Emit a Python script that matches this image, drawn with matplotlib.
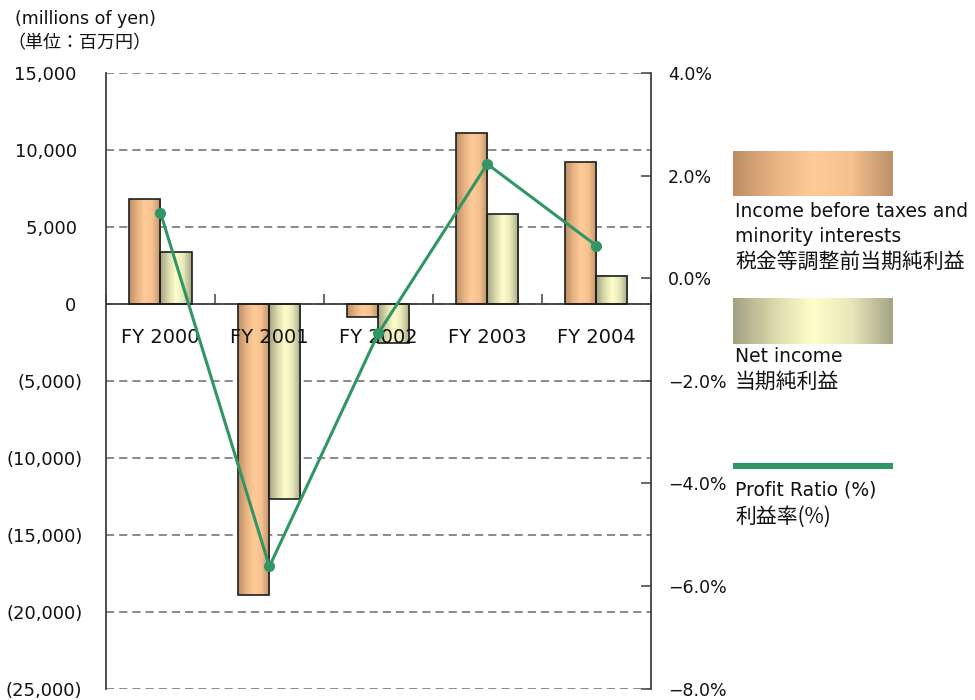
import numpy as np
import matplotlib
matplotlib.use('Agg')
import matplotlib.pyplot as plt
from matplotlib.colors import LinearSegmentedColormap
from matplotlib.ticker import FuncFormatter, FixedLocator

plt.rcParams['font.family'] = ['DejaVu Sans', 'Noto Sans CJK JP']
JP = ['Noto Sans CJK JP', 'DejaVu Sans']

# データ（百万円、%）
years = ['FY 2000', 'FY 2001', 'FY 2002', 'FY 2003', 'FY 2004']
income_before = [6800, -18900, -870, 11100, 9230]   # 税金等調整前当期純利益
net_income = [3350, -12650, -2530, 5850, 1840]       # 当期純利益
profit_ratio = [1.28, -5.62, -1.07, 2.23, 0.64]      # 利益率(%)
left_ticks = [15000, 10000, 5000, 0, -5000, -10000, -15000, -20000, -25000]
right_ticks = [4, 2, 0, -2, -4, -6, -8]

# グラデーション用カラーマップ
cmap_orange = LinearSegmentedColormap.from_list(
    'o', ['#bd8e66', '#e8b282', '#ffcc99', '#f4c08e', '#bc9168'])
cmap_olive = LinearSegmentedColormap.from_list(
    'g', ['#a3a384', '#d8d8aa', '#ffffcc', '#e6e6b8', '#a6a688'])
grad = np.linspace(0, 1, 64).reshape(1, -1)
green = '#2f9664'
dark = '#404040'
txt = '#111111'

fig = plt.figure(figsize=(9.75, 7.0), dpi=100)
ax = fig.add_axes([106 / 975, 1 - 688.5 / 700, (650.7 - 106) / 975, (688.5 - 73.3) / 700])

x = np.arange(len(years))
w = 0.285
b1 = ax.bar(x - w, income_before, w, align='edge', facecolor='none',
            edgecolor='#1e1e1e', linewidth=1.2, zorder=3)
b2 = ax.bar(x, net_income, w, align='edge', facecolor='none',
            edgecolor='#1e1e1e', linewidth=1.2, zorder=3)


# 棒の中にグラデーションを描く
def fill_gradient(bars, cmap):
    for p in bars:
        x0 = p.get_x()
        y0 = p.get_y()
        x1 = x0 + p.get_width()
        y1 = y0 + p.get_height()
        ax.imshow(grad, cmap=cmap, extent=[x0, x1, min(y0, y1), max(y0, y1)],
                  aspect='auto', zorder=2, interpolation='bicubic')


fill_gradient(b1, cmap_orange)
fill_gradient(b2, cmap_olive)

ax.set_xlim(-0.5, len(years) - 0.5)
ax.set_ylim(-25000, 15000)
ax.set_yticks(left_ticks)


def yen_fmt(v, pos):
    if v < 0:
        return '({:,.0f})'.format(-v)
    return '{:,.0f}\u2008'.format(v)


ax.yaxis.set_major_formatter(FuncFormatter(yen_fmt))
ax.tick_params(axis='y', length=0, pad=17, labelsize=13, labelcolor=txt)
ax.grid(axis='y', color='#808080', linestyle=(0, (4.5, 2.8)), linewidth=1.3)
ax.set_axisbelow(True)

ax.spines['top'].set_visible(False)
ax.spines['right'].set_visible(False)
ax.spines['bottom'].set_position(('data', 0))
ax.spines['bottom'].set_color(dark)
ax.spines['bottom'].set_linewidth(1.3)
ax.spines['left'].set_color(dark)
ax.spines['left'].set_linewidth(1.3)

ax.set_xticks(x)
ax.set_xticklabels([])
ax.xaxis.set_minor_locator(FixedLocator(np.arange(-0.5, len(years), 1.0)))
ax.tick_params(axis='x', which='major', length=0)
ax.tick_params(axis='x', which='minor', direction='in', length=7, color=dark, width=1.1)

# 年度ラベル（棒の上に表示）
for i, lab in enumerate(years):
    ax.annotate(lab, xy=(i, 0), xytext=(0, -24), textcoords='offset points',
                ha='center', va='center', fontsize=14, color=txt, zorder=10)

# 利益率（右軸）
ax2 = ax.twinx()
ax2.plot(x, profit_ratio, color=green, linewidth=2.2, marker='o', markersize=7, zorder=5)
ax2.set_ylim(-8, 4)
ax2.set_yticks(right_ticks)
ax2.yaxis.set_major_formatter(FuncFormatter(lambda v, p: '{:.1f}%'.format(v).replace('-', '\u2212')))
ax2.tick_params(axis='y', direction='in', length=7, color=dark, width=1.1,
                pad=12.5, labelsize=12.5, labelcolor=txt)
for s in ['top', 'bottom', 'left']:
    ax2.spines[s].set_visible(False)
ax2.spines['right'].set_color(dark)
ax2.spines['right'].set_linewidth(1.3)

# 単位
fig.text(15 / 975, 1 - 19 / 700, '(millions of yen)', fontsize=12.5, va='center', ha='left', color=txt)
fig.text(7 / 975, 1 - 43 / 700, '（単位：百万円）', fontsize=13, va='center', ha='left',
         color=txt, family=JP)

# 凡例（右側）
lg = fig.add_axes([0, 0, 1, 1], zorder=-1)
lg.imshow(grad, cmap=cmap_orange, extent=[733, 893, 196.5, 152], aspect='auto', interpolation='bicubic')
lg.imshow(grad, cmap=cmap_olive, extent=[733, 893, 344.5, 299], aspect='auto', interpolation='bicubic')
lg.plot([733, 893], [465.7, 465.7], color=green, linewidth=4.4, solid_capstyle='butt')
lg.set_xlim(0, 975)
lg.set_ylim(700, 0)
lg.axis('off')

legend_en = [
    (211.7, 'Income before taxes and'),
    (236.7, 'minority interests'),
    (356, 'Net income'),
    (490, 'Profit Ratio (%)'),
]
legend_jp = [
    (262.7, '税金等調整前当期純利益'),
    (381.7, '当期純利益'),
    (516.7, '利益率(%)'),
]
for yy, t in legend_en:
    lg.text(735, yy, t, fontsize=13.5, va='center', ha='left', color=txt)
for yy, t in legend_jp:
    lg.text(735, yy, t, fontsize=15, va='center', ha='left', color=txt, family=JP)

fig.savefig('out.png', dpi=100)
